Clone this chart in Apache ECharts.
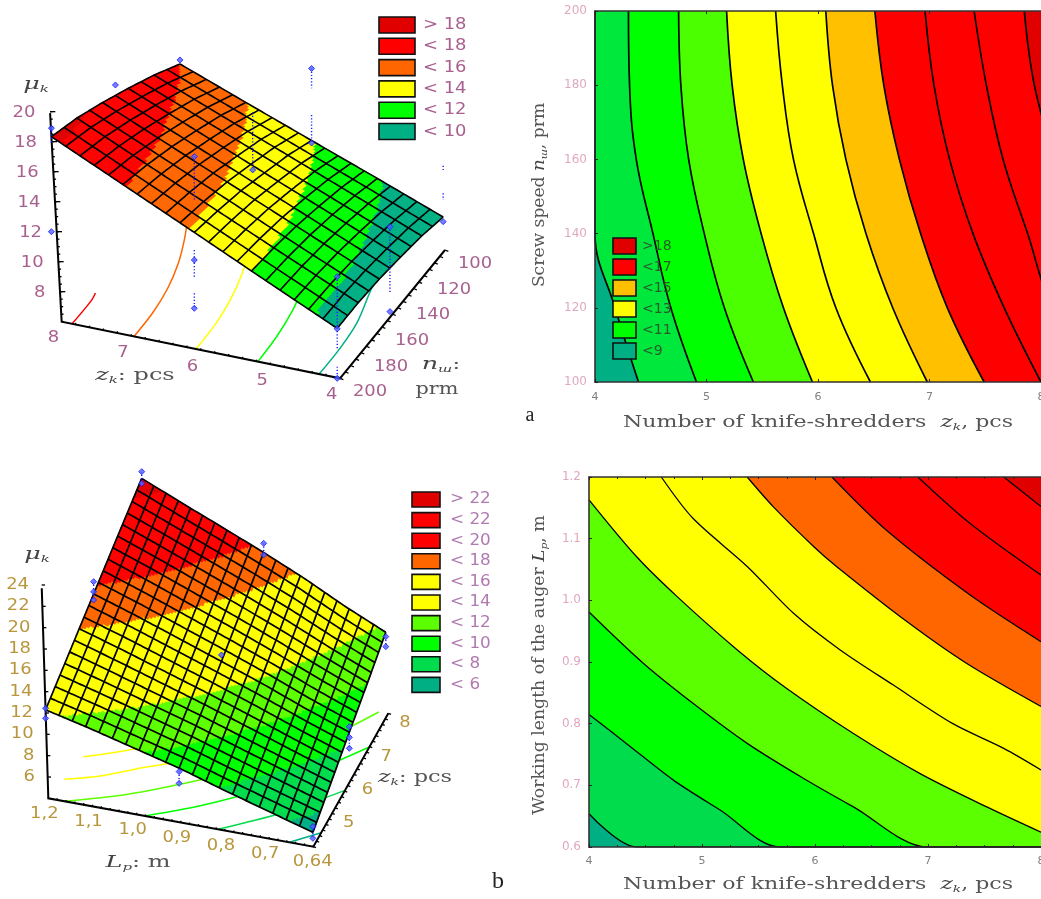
<!DOCTYPE html>
<html><head><meta charset="utf-8">
<style>html,body{margin:0;padding:0;background:#fff}#c{width:1041px;height:899px;filter:blur(0.6px)}</style>
<script src="https://cdn.jsdelivr.net/npm/echarts@6/dist/echarts.min.js"></script>
</head><body><div id="c"></div>
<script>
// ---------- DATA: panel a (screw speed) ----------
const aSpeedTicks = [100,120,140,160,180,200];
const aKnifeTicks = [4,5,6,7,8];
// knife count where each contour crosses the speed ticks (100 -> 200)
const aLine9  = [4.39,4.18,4.00,4.00,4.00,4.00];
const aLine10 = [4.91,4.68,4.52,4.37,4.31,4.30];
const aLine11 = [5.42,5.16,4.98,4.84,4.77,4.75];
const aLine12 = [5.95,5.69,5.49,5.33,5.23,5.18];
const aLine13 = [6.47,6.16,5.96,5.78,5.68,5.62];
const aLine14 = [6.98,6.67,6.43,6.25,6.13,6.07];
const aLine15 = [7.49,7.16,6.92,6.73,6.59,6.51];
const aLine16 = [8.00,7.67,7.39,7.18,7.04,6.96];
const aLine17 = [8.50,8.10,7.88,7.66,7.51,7.40];
const aLine18 = [8.70,8.50,8.30,8.12,7.94,7.85];
const aContourColors = ['#00e83c','#00ff00','#4cff00','#ffff00','#ffff00','#ffc000','#ff0000','#ff0000','#ff0000','#e00000'];
const aContourBase = '#00b084';
// response surface mu(z, n), rows n = 100..200, columns z = 4..8
const aMu100 = [ 8.20,10.17,12.10,14.04,16.00];
const aMu120 = [ 8.65,10.67,12.69,14.68,16.70];
const aMu140 = [ 8.95,11.04,13.09,15.17,17.25];
const aMu160 = [ 9.20,11.33,13.47,15.60,17.74];
const aMu180 = [ 9.33,11.50,13.70,15.91,18.14];
const aMu200 = [ 9.33,11.57,13.84,16.09,18.33];
const aLevels3D = [10,12,14,16,18];
const aColors3D = ['#00b084','#00ff00','#ffff00','#ff6600','#ff0000','#e00000'];
const aFloorColors = {10:'#00b084',12:'#00ff00',14:'#ffff00',16:'#ff6600',18:'#ff0000'};
// observations: z, n, mu
const aObserved = [
 [8,100,16.27],[8,150,18.19],[8,200,18.9],[8,200,12.0],
 [6,100,16.9],[6,100,11.93],[6,150,14.07],[6,200,18.89],[6,200,12.0],[6,200,8.78],
 [4,100,7.89],[4,150,11.83],[4,150,6.17],[4,200,12.78],[4,200,9.3],[4,200,6.0]];
// visible parts of the dotted residual lines: z, n, mu from, mu to
const aDrops = [
 [6,100,16.9,15.58],[6,100,13.8,12.0],[6,150,17.9,14.07],
 [6,200,18.89,16.0],[6,200,12.67,10.89],[6,200,9.78,8.78],
 [4,100,11.62,11.33],[4,100,9.78,9.33],[4,150,11.83,7.39],
 [4,200,12.78,7.89],[4,200,6.78,6.0],[8,200,18.9,17.9]];
const aMuTicks3D = [8,10,12,14,16,18,20];
const aLegend3DLabels = ['> 18','< 18','< 16','< 14','< 12','< 10'];
const aLegend3DColors = ['#e00000','#ff0000','#ff6600','#ffff00','#00ff00','#00b084'];
const aLegendLabels = ['>18','<17','<15','<13','<11','<9'];
const aLegendColors = ['#e00000','#ff0000','#ffc000','#ffff00','#00ff00','#00b084'];

// ---------- DATA: panel b (auger length) ----------
const bLengthTicks = [0.6,0.7,0.8,0.9,1.0,1.1,1.2];
const bLine6  = [[4,0.654],[4.42,0.6]];
const bLine8  = [[4,0.815],[4.33,0.768],[4.75,0.708],[5.16,0.660],[5.69,0.6]];
const bLine10 = [[4,0.981],[4.48,0.898],[4.92,0.833],[5.40,0.768],[5.90,0.711],[6.34,0.665],[6.99,0.6]];
const bLine12 = [[4,1.163],[4.42,1.071],[4.78,1.006],[5.31,0.920],[5.75,0.857],[6.34,0.784],[6.93,0.719],[7.52,0.665],[8,0.624]];
const bLine14 = [[4.64,1.2],[4.92,1.133],[5.40,1.055],[5.81,0.979],[6.22,0.920],[6.69,0.863],[7.22,0.800],[7.67,0.760],[8,0.725]];
const bLine16 = [[5.40,1.2],[5.63,1.152],[5.99,1.087],[6.19,1.055],[6.81,0.966],[7.34,0.898],[8,0.828]];
const bLine18 = [[6.15,1.2],[6.63,1.114],[7.37,1.009],[8,0.933]];
const bLine20 = [[6.91,1.2],[7.37,1.125],[8,1.041]];
const bLine22 = [[7.67,1.2],[8,1.152]];
const bContourColors = ['#00dc4c','#00ff00','#5cff00','#ffff00','#ffff00','#ff6600','#ff0000','#ff0000','#e00000'];
const bContourBase = '#00b084';
const bFloorColors = ['#00b084','#00dc4c','#00ff00','#5cff00','#ffff00','#ffff00','#ff6600','#ff0000','#ff0000'];
// mu(z, L), rows L = 0.6..1.2, columns z = 4..8
const bMu06 = [ 5.34, 6.90, 8.48,10.00,11.60];
const bMu07 = [ 6.57, 8.30,10.00,11.75,13.50];
const bMu08 = [ 7.80, 9.70,11.66,13.58,15.60];
const bMu09 = [ 9.10,11.10,13.20,15.33,17.50];
const bMu10 = [10.20,12.40,14.70,17.00,19.30];
const bMu11 = [11.30,13.70,16.20,18.66,21.06];
const bMu12 = [12.30,14.95,17.60,20.24,22.87];
const bLevels3D = [6,8,10,12,14,16,18,20,22];
const bColors3D = ['#00b084','#00dc4c','#00ff00','#5cff00','#ffff00','#ffff00','#ff6600','#ff0000','#ff0000','#e00000'];
const bObserved = [
 [8,1.2,23.5],[8,1.2,22.4],[6,1.2,18.75],[6,1.2,17.8],[6,1.2,17.03],[4,1.2,12.44],[4,1.2,11.5],
 [8,0.9,18.36],[8,0.9,17.27],[6,0.9,13.8],[4,0.9,8.77],[4,0.9,7.67],
 [8,0.6,11.19],[8,0.6,10.25],[6,0.6,9.0],[6,0.6,8.0],[6,0.6,6.97],[4,0.6,5.88],[4,0.6,4.78]];
const bDrops = [[8,1.2,23.5,22.4],[6,1.2,18.75,17.03],[4,1.2,12.44,11.5],[8,0.9,18.36,17.27],[4,0.9,8.77,7.67],[8,0.6,11.19,10.25],[6,0.6,9.0,6.97],[4,0.6,5.88,4.78]];
const bMuTicks3D = [6,8,10,12,14,16,18,20,22,24];
const bLegendLabels = ['> 22','< 22','< 20','< 18','< 16','< 14','< 12','< 10','< 8','< 6'];
const bLegendColors = ['#e00000','#ff0000','#ff0000','#ff6600','#ffff00','#ffff00','#5cff00','#00ff00','#00dc4c','#00b084'];

// ---------- helpers ----------
const aMuRows=[aMu100,aMu120,aMu140,aMu160,aMu180,aMu200];
const bMuRows=[bMu06,bMu07,bMu08,bMu09,bMu10,bMu11,bMu12];
const aLines={9:aLine9,10:aLine10,11:aLine11,12:aLine12,13:aLine13,14:aLine14,15:aLine15,16:aLine16,17:aLine17,18:aLine18};
const bLines=[bLine6,bLine8,bLine10,bLine12,bLine14,bLine16,bLine18,bLine20,bLine22];
function tableAt(rows,ys,z,y){
  const fx=Math.min(Math.max(z-4,0),3.9999),i=Math.floor(fx),tx=fx-i;
  let j=0;while(j<ys.length-2&&y>ys[j+1])j++;
  const ty=(y-ys[j])/(ys[j+1]-ys[j]);
  const lo=rows[j][i]*(1-tx)+rows[j][i+1]*tx, hi=rows[j+1][i]*(1-tx)+rows[j+1][i+1]*tx;
  return lo*(1-ty)+hi*ty;
}
function bandColor(levels,colors,v){let k=0;while(k<levels.length&&v>=levels[k])k++;return colors[k];}
const projA=(z,n,mu)=>{const u=(z-4)/4,v=(200-n)/100;
  return [185+(8-z)*208.75+v*315+u*v*65-(mu-6)*2.5, 965+(8-z)*42.5-v*385+u*v*62-(mu-6)*45];};
const projB=(z,L,mu)=>{const p=(1.2-L)/0.6,q=(z-4)/4;
  return [145+795*p+225*q+74*(1-p)*q-(mu-4), 1045+145*p-400*q+44*(1-p)*q-(mu-4)*32];};

function polySeries(ax,lines){ // lines: {pts,color,width,dash,smooth}
  return {type:'custom',coordinateSystem:'cartesian2d',xAxisIndex:ax,yAxisIndex:ax,silent:true,animation:false,
    data:lines.map((l,i)=>[i]),encode:{x:0},clip:false,
    renderItem:(p,api)=>{const l=lines[p.dataIndex];
      return {type:'polyline',shape:{points:l.pts.map(q=>api.coord(q)),smooth:l.smooth||0},
        style:{fill:'none',stroke:l.color,lineWidth:l.width||1,lineDash:l.dash||null}};}};
}
function textSeries(ax,items,fill,size){
  return {type:'custom',coordinateSystem:'cartesian2d',xAxisIndex:ax,yAxisIndex:ax,silent:true,animation:false,
    data:items.map((l,i)=>[i]),encode:{x:0},clip:false,
    renderItem:(p,api)=>{const t=items[p.dataIndex],c=api.coord(t.pos);
      return {type:'text',x:c[0],y:c[1],scaleX:1.12,style:{text:t.text,fill:fill,align:t.align||'center',verticalAlign:'middle',
        font:size+'px "DejaVu Sans"'}};}};
}
function surfaceSeries(ax,proj,muAt,bMin,bMax,nz,nb,sub,levels,colors,meshWidth){
  const cells=[];const Nz=nz*sub,Nb=nb*sub;
  for(let i=0;i<Nz;i++)for(let j=0;j<Nb;j++)cells.push([i,j]);
  const zAt=i=>4+4*i/Nz,bAt=j=>bMin+(bMax-bMin)*j/Nb;
  const fill={type:'custom',coordinateSystem:'cartesian2d',xAxisIndex:ax,yAxisIndex:ax,silent:true,animation:false,
    progressive:0,clip:false,data:cells.map((c,i)=>[i]),encode:{x:0},
    renderItem:(p,api)=>{const [i,j]=cells[p.dataIndex];
      const c=[[i,j],[i+1,j],[i+1,j+1],[i,j+1]].map(q=>{const z=zAt(q[0]),b=bAt(q[1]);return api.coord(proj(z,b,muAt(z,b)));});
      const col=bandColor(levels,colors,muAt(zAt(i+.5),bAt(j+.5)));
      return {type:'polygon',shape:{points:c},style:{fill:col,stroke:col,lineWidth:0.8}};}};
  const mesh=[];
  for(let i=0;i<=nz;i++){const pts=[];for(let j=0;j<=Nb;j++){const z=zAt(i*sub),b=bAt(j);pts.push(proj(z,b,muAt(z,b)));}mesh.push({pts,color:'#000',width:meshWidth});}
  for(let j=0;j<=nb;j++){const pts=[];for(let i=0;i<=Nz;i++){const z=zAt(i),b=bAt(j*sub);pts.push(proj(z,b,muAt(z,b)));}mesh.push({pts,color:'#000',width:meshWidth});}
  return [fill,polySeries(ax,mesh)];
}
function obsSeries(ax,proj,muAt,obs,drops){
  const atSurface=(z,b,m)=>{const s=proj(z,b,muAt(z,b));return [s[0],proj(z,b,m)[1]];};
  const lines=drops.map(o=>({pts:[atSurface(o[0],o[1],o[2]),atSurface(o[0],o[1],o[3])],color:'#1a1aff',width:1.4,dash:[1.2,2]}));
  return [polySeries(ax,lines),{type:'scatter',xAxisIndex:ax,yAxisIndex:ax,silent:true,animation:false,symbol:'diamond',symbolSize:6,clip:false,
    data:obs.map(o=>atSurface(o[0],o[1],o[2])),itemStyle:{color:'#5060ff',borderColor:'#1a1aff',borderWidth:1}}];
}
function ticks(ax1,ax2,n,len){
  const r=[];for(let i=0;i<=n;i++){const t=i/n,x=ax1[0]+(ax2[0]-ax1[0])*t,y=ax1[1]+(ax2[1]-ax1[1])*t;
    r.push({pts:[[x,y],[x+len[0],y+len[1]]],color:'#000',width:1.3});}
  return r;
}
function clipFloor(zs,ys){
  const pts=[];for(let i=0;i<zs.length;i++){
    if(zs[i]<=8)pts.push([zs[i],ys[i]]);
    else{if(pts.length){const a=pts[pts.length-1],t=(8-a[0])/(zs[i]-a[0]);pts.push([8,a[1]+(ys[i]-a[1])*t]);}break;}
  }return pts;
}

// ---------- series ----------
const series=[];
Object.keys(aLines).map(Number).sort((x,y)=>x-y).forEach((lvl,i)=>{
  series.push({type:'line',name:'mu '+lvl,xAxisIndex:0,yAxisIndex:0,smooth:0.4,showSymbol:false,silent:true,animation:false,
    data:aLines[lvl].map((z,k)=>[z,String(aSpeedTicks[k])]),
    lineStyle:{color:'#000',width:1.7},areaStyle:{color:aContourColors[i],opacity:1,origin:'end'}});
});
bLines.forEach((ln,i)=>{
  series.push({type:'line',xAxisIndex:2,yAxisIndex:2,smooth:0.3,showSymbol:false,silent:true,animation:false,
    data:ln[ln.length-1][0]<8?ln.concat([[8,0.6]]):ln,lineStyle:{color:'#000',width:1.3},areaStyle:{color:bContourColors[i],opacity:1,origin:'end'}});
});
// panel a 3D
const muA=(z,n)=>tableAt(aMuRows,aSpeedTicks,z,n);
const aFloor=[];
aLevels3D.forEach(l=>{const pts=clipFloor(aLines[l].slice().reverse(),aSpeedTicks.slice().reverse()).map(q=>projA(q[0],q[1],6));
  aFloor.push({pts,color:aFloorColors[l],width:1.5,smooth:0.3});});
const aAxes=[
 {pts:[projA(8,200,19.9),projA(8,200,6),projA(4,200,6),projA(4,100,6)],color:'#000',width:2},
 ...ticks(projA(8,200,8),projA(8,200,20),6,[16,0]),
 ...ticks(projA(8,200,6),projA(8,200,20),28,[7,0]),
 ...ticks(projA(4,200,6),projA(4,100,6),20,[10,4]),
 ...ticks(projA(8,200,6),projA(4,200,6),20,[0,-5])];
series.push(polySeries(4,aFloor),polySeries(4,aAxes));
series.push(...surfaceSeries(4,projA,muA,100,200,20,10,5,aLevels3D,aColors3D,1.6));
series.push(...obsSeries(4,projA,muA,aObserved,aDrops));
const aTxt=[];
aMuTicks3D.forEach(m=>{const p=projA(8,200,m);aTxt.push({pos:[p[0]-44,p[1]+3],text:String(m),align:'right'});});
aKnifeTicks.forEach(z=>{const p=projA(z,200,6);aTxt.push({pos:[p[0]-25,p[1]+50],text:String(z)});});
aSpeedTicks.forEach(n=>{const p=projA(4,n,6);aTxt.push({pos:[p[0]+90,p[1]+42],text:String(n)});});
series.push(textSeries(4,aTxt,'#a8608f',16));
// panel b 3D
const muB=(z,L)=>tableAt(bMuRows,bLengthTicks,z,L);
const bFloor=bLines.map((ln,i)=>({pts:ln.map(q=>projB(q[0],q[1],4)),color:bFloorColors[i],width:1.5,smooth:0.3}));
const bAxes=[
 {pts:[projB(4,1.2,23.7),projB(4,1.2,4),projB(4,0.6,4),projB(8,0.6,4)],color:'#000',width:2},
 ...ticks(projB(4,1.2,6),projB(4,1.2,24),9,[10,0]),
 ...ticks(projB(4,1.2,4),projB(4,0.6,4),30,[0,-5]),
 ...ticks(projB(4,0.6,4),projB(8,0.6,4),24,[8,3])];
series.push(polySeries(5,bFloor),polySeries(5,bAxes));
series.push(...surfaceSeries(5,projB,muB,0.6,1.2,20,20,5,bLevels3D,bColors3D,1.7));
series.push(...obsSeries(5,projB,muB,bObserved,bDrops));
const bTxt=[];
bMuTicks3D.forEach(m=>{const p=projB(4,1.2,m);bTxt.push({pos:[p[0]-38,p[1]],text:String(m),align:'right'});});
bLengthTicks.slice(1).forEach(L=>{const p=projB(4,L,4);bTxt.push({pos:[p[0]-12,p[1]+46],text:L.toFixed(1).replace('.',',')});});
bTxt.push({pos:[938,1237],text:'0,64'});
[5,6,7,8].forEach(z=>{const p=projB(z,0.6,4);bTxt.push({pos:[p[0]+50,p[1]+30],text:String(z)});});
series.push(textSeries(5,bTxt,'#b8963c',16));

// ---------- legends and axis titles ----------
const graphic=[];
function legend(labels,colors,x,y,w,h,step,tx,size,col,sx){
  labels.forEach((l,i)=>{
    graphic.push({type:'rect',silent:true,shape:{x:x,y:y+i*step,width:w,height:h},style:{fill:colors[i],stroke:'#111',lineWidth:1.6},z:50});
    graphic.push({type:'text',silent:true,x:tx,y:y+i*step+h/2,scaleX:sx,style:{text:l,fill:col,font:size+'px "DejaVu Sans"',verticalAlign:'middle'},z:50});
  });
}
legend(aLegend3DLabels,aLegend3DColors,379,17,36,16,21.3,423,16,'#a8608f',1.12);
legend(aLegendLabels,aLegendColors,613,238,23,16,21,642,14,'#2a5a2a',1);
legend(bLegendLabels,bLegendColors,412,492,28,15,20.6,450,15,'#b07ab0',1.12);
const rich={a:{font:'16px "DejaVu Serif"',fill:'#555',color:'#555'},
  i:{font:'italic 17px "DejaVu Serif"',fill:'#444',color:'#444'},
  s:{font:'italic 10px "DejaVu Serif"',fill:'#444',color:'#444',padding:[8,0,0,0]}};
function title(text,x,y,sx,rot){graphic.push({type:'text',silent:true,x:x,y:y,scaleX:sx||1,rotation:rot||0,style:{text:text,rich:rich,align:'center',verticalAlign:'middle'},z:50});}
title('{i|z}{s|k}{a|: pcs}',135,376,1.5);
title('{i|n}{s|ш}{a|:}',441,365,1.5);
title('{a|prm}',437,390,1.3);
title('{i|μ}{s|k}',36,85,1.5);
title('{i|μ}{s|k}',37,555,1.5);
title('{i|L}{s|p}{a|: m}',138,863,1.5);
title('{i|z}{s|k}{a|: pcs}',415,778,1.4);
title('{a|Number of knife-shredders  }{i|z}{s|k}{a|, pcs}',818,423,1.38);
title('{a|Number of knife-shredders  }{i|z}{s|k}{a|, pcs}',818,885,1.38);
title('{a|Screw speed }{i|n}{s|ш}{a|, prm}',540,195,1.07,Math.PI/2);
title('{a|Working length of the auger }{i|L}{s|p}{a|, m}',540,665,1.08,Math.PI/2);
graphic.push({type:'text',silent:true,x:530,y:416,style:{text:'a',fill:'#222',font:'20px "Liberation Serif"',align:'center',verticalAlign:'middle'}});
graphic.push({type:'text',silent:true,x:498,y:882,style:{text:'b',fill:'#222',font:'24px "Liberation Serif"',align:'center',verticalAlign:'middle'}});

// ---------- option ----------
const xLabel={show:true,color:'#808080',fontFamily:'DejaVu Sans',fontSize:11,margin:10,showMinLabel:true,showMaxLabel:true};
const yLabel={color:'#e0a8c0',fontFamily:'DejaVu Sans',fontSize:12,margin:8};
const frame={show:true,onZero:false,lineStyle:{color:'#333',width:1.6}};
const tick={show:true,inside:true,length:3,lineStyle:{color:'#222'}};
const minor={show:true,splitNumber:4,length:2,lineStyle:{color:'#222'}};
const hiddenAxis=(g,w,inv)=>({type:'value',gridIndex:g,min:0,max:w,inverse:!!inv,show:false});
const option={
  animation:false,backgroundColor:'#fff',
  grid:[
    {left:595,top:11,width:446,height:371,show:true,backgroundColor:aContourBase,borderWidth:0,outerBoundsMode:'none'},
    {left:589,top:477,width:452,height:370,show:true,backgroundColor:bContourBase,borderWidth:0,outerBoundsMode:'none'},
    {left:0,top:0,width:520,height:430,show:false,outerBoundsMode:'none'},
    {left:0,top:450,width:520,height:449,show:false,outerBoundsMode:'none'}
  ],
  xAxis:[
    {type:'value',gridIndex:0,min:4,max:8,interval:1,z:6,axisLine:frame,axisTick:tick,splitLine:{show:false},axisLabel:xLabel},
    {type:'value',gridIndex:0,position:'top',min:4,max:8,interval:1,z:6,axisLine:frame,axisTick:tick,axisLabel:{show:false},splitLine:{show:false}},
    {type:'value',gridIndex:1,min:4,max:8,interval:1,z:6,axisLine:frame,axisTick:tick,minorTick:minor,splitLine:{show:false},axisLabel:{...xLabel,margin:9}},
    {type:'value',gridIndex:1,position:'top',min:4,max:8,interval:1,z:6,axisLine:frame,axisTick:tick,minorTick:minor,axisLabel:{show:false},splitLine:{show:false}},
    hiddenAxis(2,1560),hiddenAxis(3,1560)
  ],
  yAxis:[
    {type:'category',gridIndex:0,data:aSpeedTicks.map(String),boundaryGap:false,z:6,axisLine:frame,axisTick:tick,axisLabel:{...yLabel,interval:0},splitLine:{show:false}},
    {type:'value',gridIndex:0,show:false,min:0,max:1},
    {type:'value',gridIndex:1,min:0.6,max:1.2,interval:0.1,z:6,axisLine:frame,axisTick:tick,axisLabel:{...yLabel,formatter:v=>v.toFixed(1)},splitLine:{show:false}},
    {type:'value',gridIndex:1,show:false,min:0,max:1},
    hiddenAxis(2,1290,true),hiddenAxis(3,1347,true)
  ],
  graphic:{elements:graphic},
  series:series
};
const chart=echarts.init(document.getElementById('c'),null,{renderer:'canvas',width:1041,height:899});
chart.setOption(option);
</script></body></html>
